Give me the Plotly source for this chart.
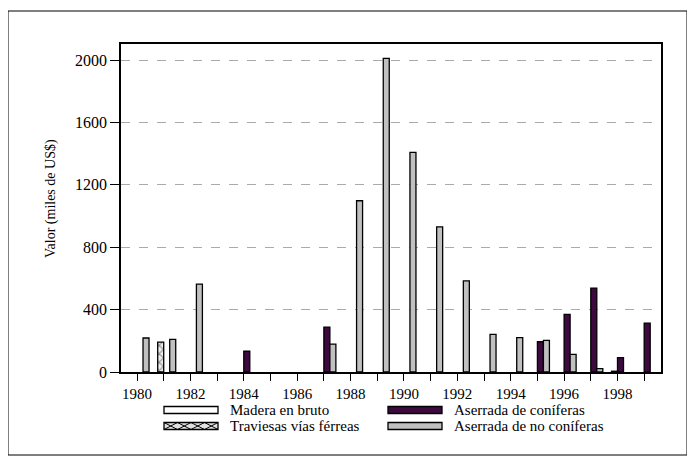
import plotly.graph_objects as go

years = list(range(1980, 2000))
tick_labels = [str(y) if y % 2 == 0 else "" for y in years]

madera_en_bruto = [None] * 20
traviesas = [None, 192, None, None, None, None, None, None, None, None,
             None, None, None, None, None, None, None, None, 5, None]
coniferas = [None, None, None, None, 133, None, None, 288, None, None,
             None, None, None, None, None, 194, 370, 538, 92, 314]
no_coniferas = [218, 209, 564, None, None, None, None, 179, 1098, 2011,
                1408, 931, 584, 241, 220, 203, 113, 21, None, None]

series_names = ["Madera en bruto", "Traviesas vías férreas",
                "Aserrada de coníferas", "Aserrada de no coníferas"]
y_ticks = [0, 400, 800, 1200, 1600, 2000]
y_title = "Valor (miles de US$)"

FONT = "Liberation Serif, Times New Roman, serif"
PURPLE = "#3f0840"
GREY = "#c0c0c0"
line = dict(color="black", width=1.3)

fig = go.Figure()
fig.add_bar(x=years, y=madera_en_bruto, name=series_names[0],
            marker=dict(color="white", line=line))
fig.add_bar(x=years, y=traviesas, name=series_names[1],
            marker=dict(color="white", line=line,
                        pattern=dict(shape="x", fgcolor="#222", bgcolor="#eeeeee",
                                     size=6, solidity=0.3)))
fig.add_bar(x=years, y=coniferas, name=series_names[2],
            marker=dict(color=PURPLE, line=line))
fig.add_bar(x=years, y=no_coniferas, name=series_names[3],
            marker=dict(color=GREY, line=line))

OX, OY = 8, 8
L, R, T, B = 121, 661, 44, 372
FW, FH = 695, 464
W, H = R - L, B - T
px = lambda x: (x - L) / W
py = lambda y: (B - y) / H

shapes = []
annotations = []
shapes.append(dict(type="rect", xref="paper", yref="paper",
                   x0=px(8), x1=px(687), y0=py(455), y1=py(11),
                   line=dict(color="black", width=1), fillcolor="rgba(0,0,0,0)",
                   layer="below"))
legend_items = [
    (series_names[0], 164, 410, "white"),
    (series_names[1], 164, 426, "#e0e0e0"),
    (series_names[2], 388, 410, PURPLE),
    (series_names[3], 388, 426, GREY),
]
for name, x0, yc, col in legend_items:
    shapes.append(dict(type="rect", xref="paper", yref="paper",
                       x0=px(x0), x1=px(x0 + 54), y0=py(yc + 3.5), y1=py(yc - 3.5),
                       line=dict(color="black", width=1.3), fillcolor=col))
    annotations.append(dict(xref="paper", yref="paper", x=px(x0 + 64), y=py(yc),
                            text=name, showarrow=False, xanchor="left", yanchor="middle",
                            font=dict(family=FONT, size=15, color="black")))
x0 = 164
seg = 54 / 4
path = ""
for i in range(4):
    a = x0 + i * seg
    b = a + seg
    path += f"M{px(a)},{py(422.5)} L{px(b)},{py(429.5)} M{px(a)},{py(429.5)} L{px(b)},{py(422.5)} "
shapes.append(dict(type="path", xref="paper", yref="paper", path=path,
                   line=dict(color="black", width=1)))

annotations.append(dict(xref="paper", yref="paper", x=px(51), y=py(199),
                        text=y_title, textangle=-90, showarrow=False,
                        xanchor="center", yanchor="middle",
                        font=dict(family=FONT, size=14, color="black")))

fig.update_layout(
    width=FW, height=FH,
    margin=dict(l=L - OX, r=FW - R + OX, t=T - OY, b=FH - B + OY, pad=0),
    paper_bgcolor="white", plot_bgcolor="white",
    barmode="group", bargap=0.1, bargroupgap=0,
    showlegend=False,
    font=dict(family=FONT, size=15, color="black"),
    shapes=shapes, annotations=annotations,
)
fig.update_xaxes(range=[1979.4, 1999.63], tickvals=years, ticktext=tick_labels,
                 ticks="outside", ticklen=7, tickwidth=1.3, tickcolor="black",
                 showline=True, linecolor="black", linewidth=1.5, mirror=True,
                 showgrid=False, zeroline=False, tickfont=dict(family=FONT, size=15))
fig.update_yaxes(range=[0, 2103], tickvals=y_ticks,
                 ticks="outside", ticklen=9, tickwidth=1.3, tickcolor="black",
                 showline=True, linecolor="black", linewidth=1.5, mirror=True,
                 showgrid=True, gridcolor="#aaaaaa", griddash="dash", gridwidth=1,
                 zeroline=False, tickfont=dict(family=FONT, size=16))

fig.write_html("out.html")
